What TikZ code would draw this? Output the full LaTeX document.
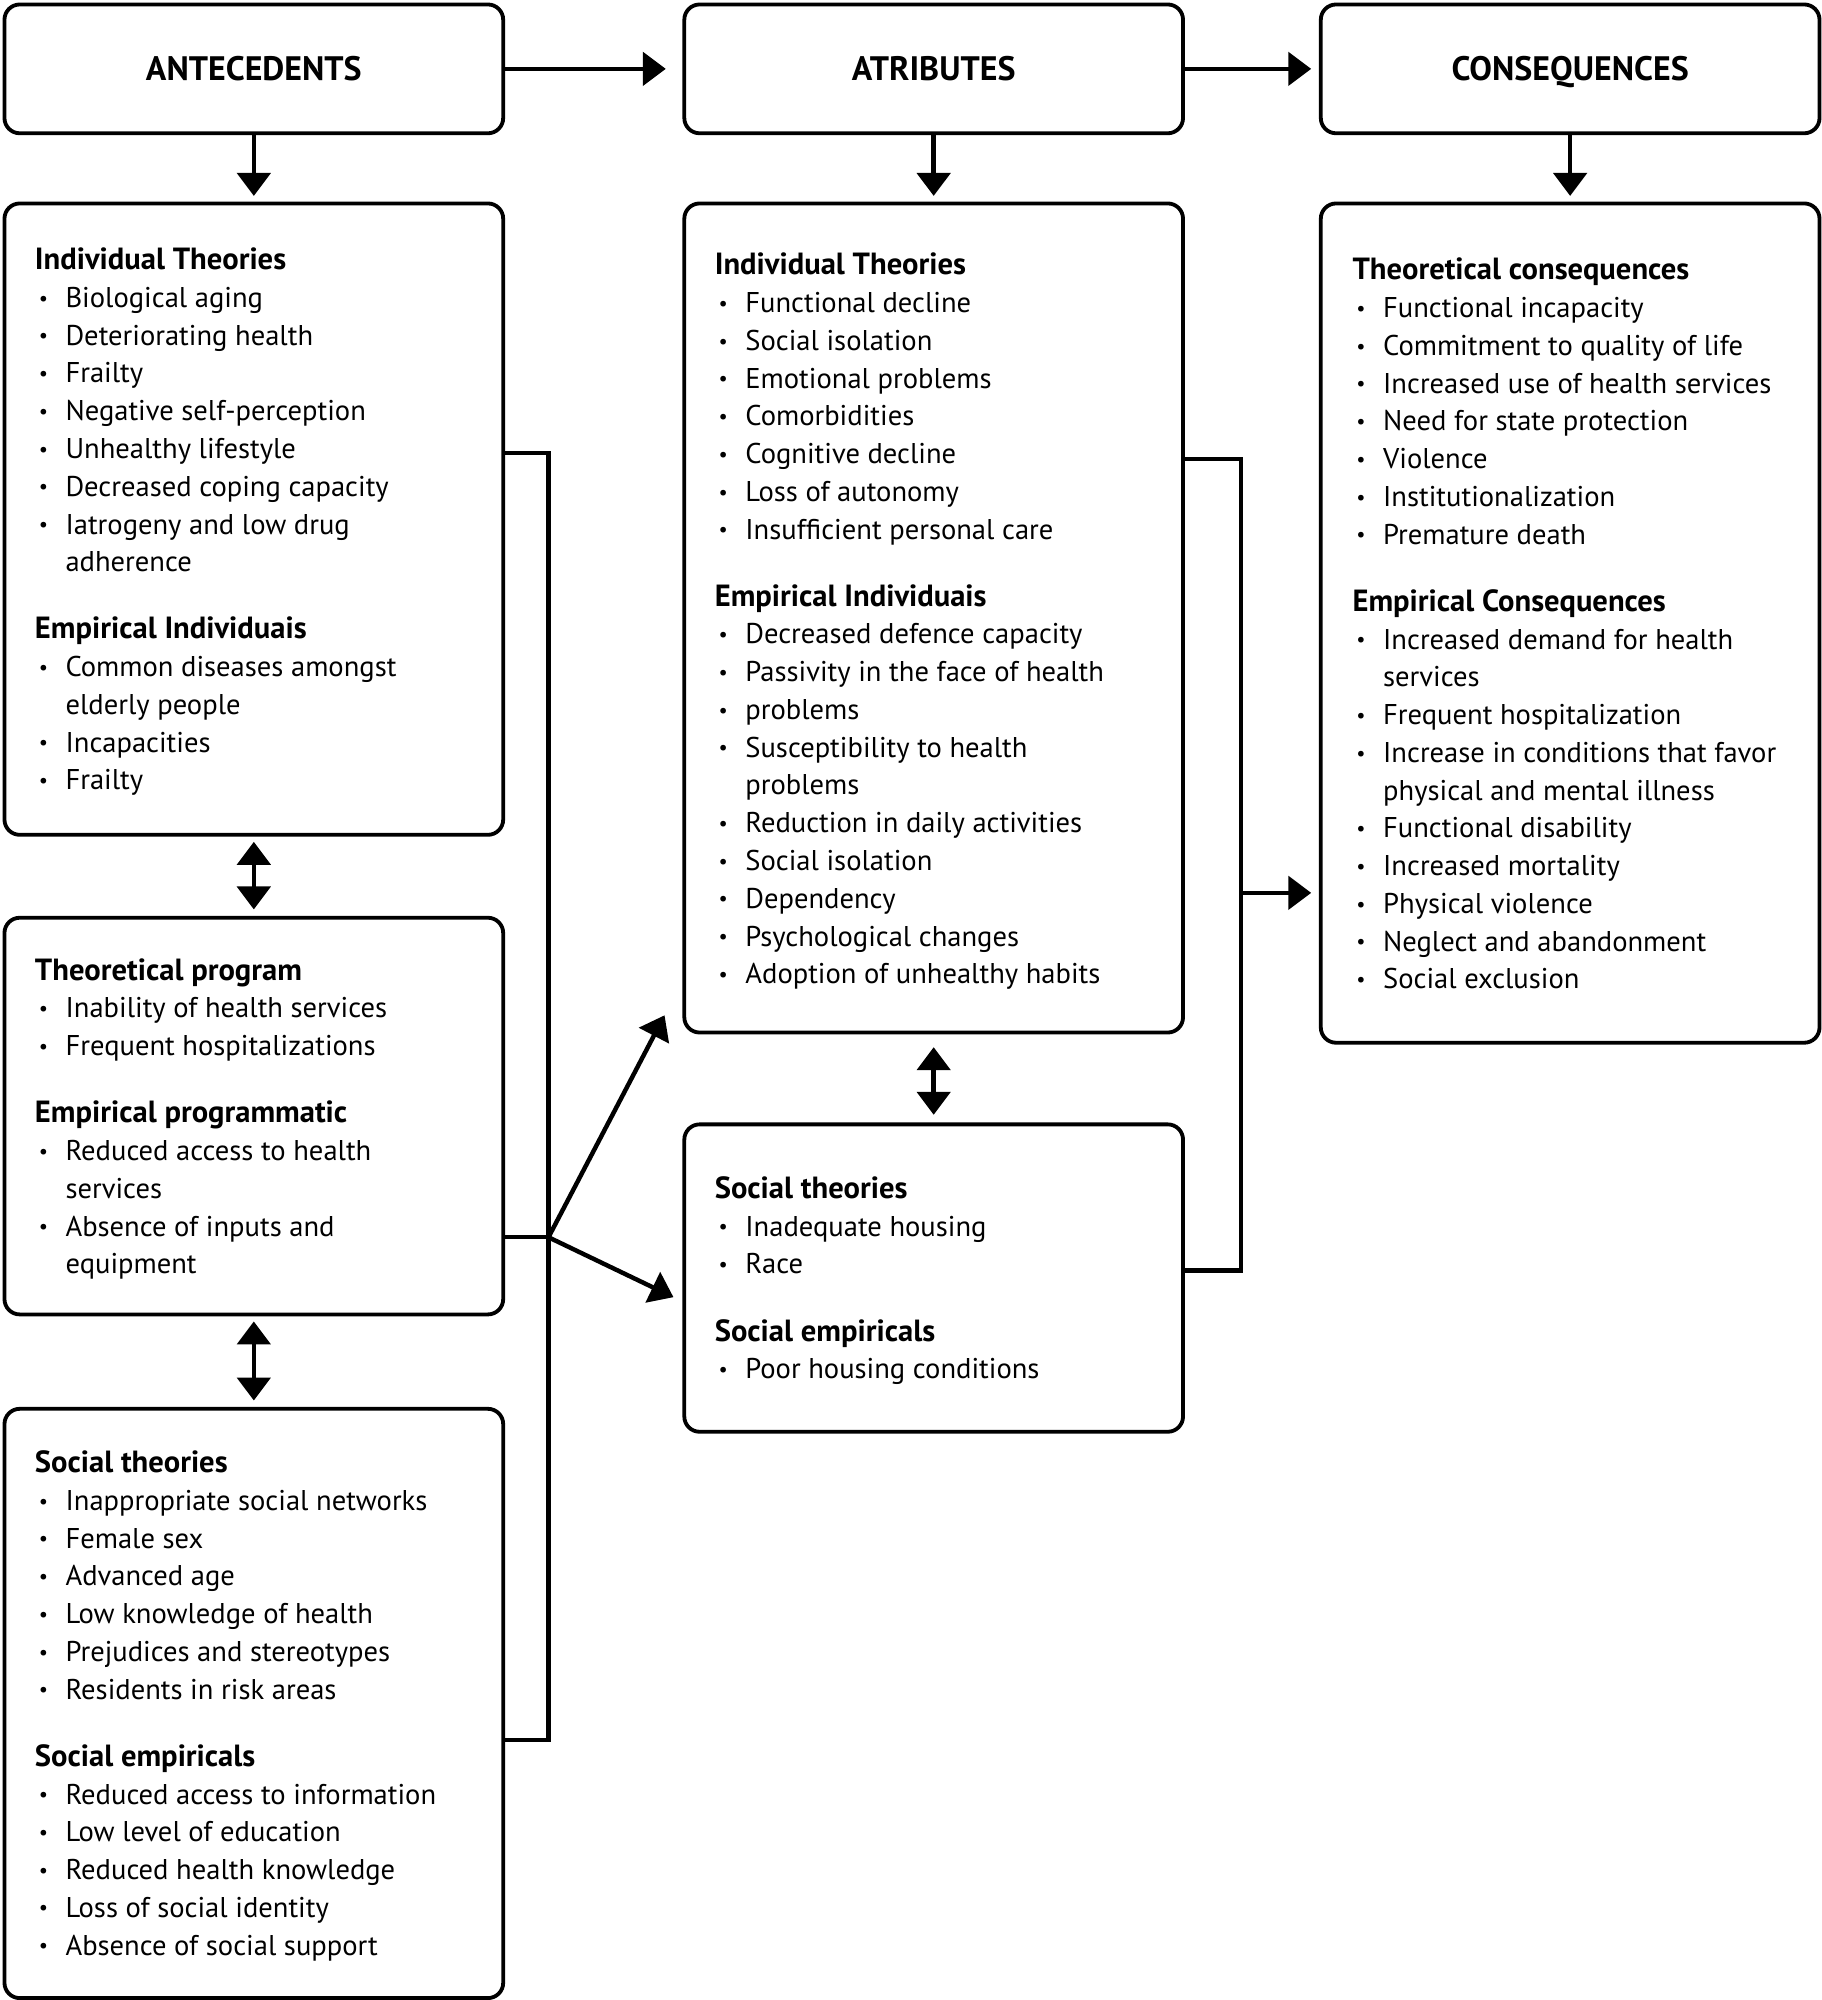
\documentclass[tikz,border=0pt]{standalone}
\usepackage{fontspec}
\setmainfont{PT Sans}
\usetikzlibrary{arrows.meta,calc}
\newcommand{\itm}[1]{\makebox[12pt][l]{\hspace{1.5pt}\raisebox{0.9pt}{\fontsize{8}{8}\selectfont\textbullet}}#1}
\newcommand{\cnt}[1]{\hspace{12pt}#1}
\newcommand{\hd}[1]{{\fontsize{12}{14.8}\selectfont\bfseries #1}}

\begin{document}
\begin{tikzpicture} [x=0.5pt, y=-0.5pt,
		box/.style={draw, line width=1.5pt, rounded corners=6pt, anchor=north west, minimum width=195.5pt, inner sep=0pt},
		headbox/.style={box, minimum height=50.5pt, text height=9.5pt, text depth=0pt, font=\fontsize{13.3}{16}\selectfont\bfseries},
		txt/.style={anchor=north west, align=left, inner sep=0pt, font=\fontsize{11.2}{14.8}\selectfont},
		link/.style={line width=1.75pt},
		arr/.style={link, -{Triangle[width=13pt,length=9pt]}},
		darr/.style={link, {Triangle[width=13pt,length=9pt]}-{Triangle[width=13pt,length=9pt]}}]
		\useasboundingbox (0,0) rectangle (1428,1568);
		\node [headbox] (ant) at (2,2) {ANTECEDENTS};
		\node [headbox] (atr) at (535,2) {ATRIBUTES};
		\node [headbox] (con) at (1034,2) {CONSEQUENCES};
		\node [box, minimum height=247.5pt] (ant1) at (2,158) {};
		\node [box, minimum height=155.5pt] (ant2) at (2,718) {};
		\node [box, minimum height=231pt] (ant3) at (2,1103) {};
		\node [box, minimum height=325pt] (atr1) at (535,158) {};
		\node [box, minimum height=120.5pt] (atr2) at (535,880) {};
		\node [box, minimum height=329pt] (con1) at (1034,158) {};
		\node [txt] (ant1txt) at (27,194) {\hd{Individual Theories}\\
			\itm{Biological aging}\\ \itm{Deteriorating health}\\ \itm{Frailty}\\
			\itm{Negative self-perception}\\ \itm{Unhealthy lifestyle}\\
			\itm{Decreased coping capacity}\\ \itm{Iatrogeny and low drug}\\ \cnt{adherence}\\[11.5pt]
			\hd{Empirical Individuais}\\
			\itm{Common diseases amongst}\\ \cnt{elderly people}\\ \itm{Incapacities}\\ \itm{Frailty}};
		\node [txt] (ant2txt) at (27,751) {\hd{Theoretical program}\\
			\itm{Inability of health services}\\ \itm{Frequent hospitalizations}\\[11.5pt]
			\hd{Empirical programmatic}\\
			\itm{Reduced access to health}\\ \cnt{services}\\
			\itm{Absence of inputs and}\\ \cnt{equipment}};
		\node [txt] (ant3txt) at (27,1137) {\hd{Social theories}\\
			\itm{Inappropriate social networks}\\ \itm{Female sex}\\ \itm{Advanced age}\\
			\itm{Low knowledge of health}\\ \itm{Prejudices and stereotypes}\\
			\itm{Residents in risk areas}\\[11.5pt]
			\hd{Social empiricals}\\
			\itm{Reduced access to information}\\ \itm{Low level of education}\\
			\itm{Reduced health knowledge}\\ \itm{Loss of social identity}\\
			\itm{Absence of social support}};
		\node [txt] (atr1txt) at (560,198) {\hd{Individual Theories}\\
			\itm{Functional decline}\\ \itm{Social isolation}\\ \itm{Emotional problems}\\
			\itm{Comorbidities}\\ \itm{Cognitive decline}\\ \itm{Loss of autonomy}\\
			\itm{Insufficient personal care}\\[11.5pt]
			\hd{Empirical Individuais}\\
			\itm{Decreased defence capacity}\\ \itm{Passivity in the face of health}\\
			\itm{problems}\\ \itm{Susceptibility to health}\\ \cnt{problems}\\
			\itm{Reduction in daily activities}\\ \itm{Social isolation}\\ \itm{Dependency}\\
			\itm{Psychological changes}\\ \itm{Adoption of unhealthy habits}};
		\node [txt] (atr2txt) at (560,922) {\hd{Social theories}\\
			\itm{Inadequate housing}\\ \itm{Race}\\[11.5pt]
			\hd{Social empiricals}\\
			\itm{Poor housing conditions}};
		\node [txt] (con1txt) at (1060,202) {\hd{Theoretical consequences}\\
			\itm{Functional incapacity}\\ \itm{Commitment to quality of life}\\
			\itm{Increased use of health services}\\ \itm{Need for state protection}\\
			\itm{Violence}\\ \itm{Institutionalization}\\ \itm{Premature death}\\[11.5pt]
			\hd{Empirical Consequences}\\
			\itm{Increased demand for health}\\ \cnt{services}\\ \itm{Frequent hospitalization}\\
			\itm{Increase in conditions that favor}\\ \cnt{physical and mental illness}\\
			\itm{Functional disability}\\ \itm{Increased mortality}\\ \itm{Physical violence}\\
			\itm{Neglect and abandonment}\\ \itm{Social exclusion}};
		\coordinate (lj) at (430,970);
		\coordinate (lb) at (430,1364);
		\coordinate (up) at (521,796);
		\coordinate (lo) at (528,1017);
		\coordinate (mj) at (973,700);
		\coordinate (mb) at (973,996);
		\draw [arr, shorten >=6.5pt] (ant) -- (atr);
		\draw [arr, shorten >=3pt] (atr) -- (con);
		\draw [arr, shorten >=2.2pt] (ant) -- (ant1);
		\draw [arr, shorten >=2.2pt] (atr) -- (atr1);
		\draw [arr, shorten >=2.2pt] (con) -- (con1);
		\draw [darr, shorten <=2pt, shorten >=2.5pt] (ant1) -- (ant2);
		\draw [darr, shorten <=2pt, shorten >=2.5pt] (ant2) -- (ant3);
		\draw [darr, shorten <=5pt, shorten >=3pt] (atr1) -- (atr2);
		\draw [link] ([yshift=-98.5pt]ant1.north east) -| (lb) -- (lb -| ant3.east);
		\draw [link] ([yshift=-126pt]ant2.north east) -- (lj);
		\draw [arr] (lj) -- (up);
		\draw [arr] (lj) -- (lo);
		\draw [link] ([yshift=-101pt]atr1.north east) -| (mb) -- (mb -| atr2.east);
		\draw [arr, shorten >=3pt] (mj) -- (mj -| con1.west);
		\end{tikzpicture}
\end{document}
